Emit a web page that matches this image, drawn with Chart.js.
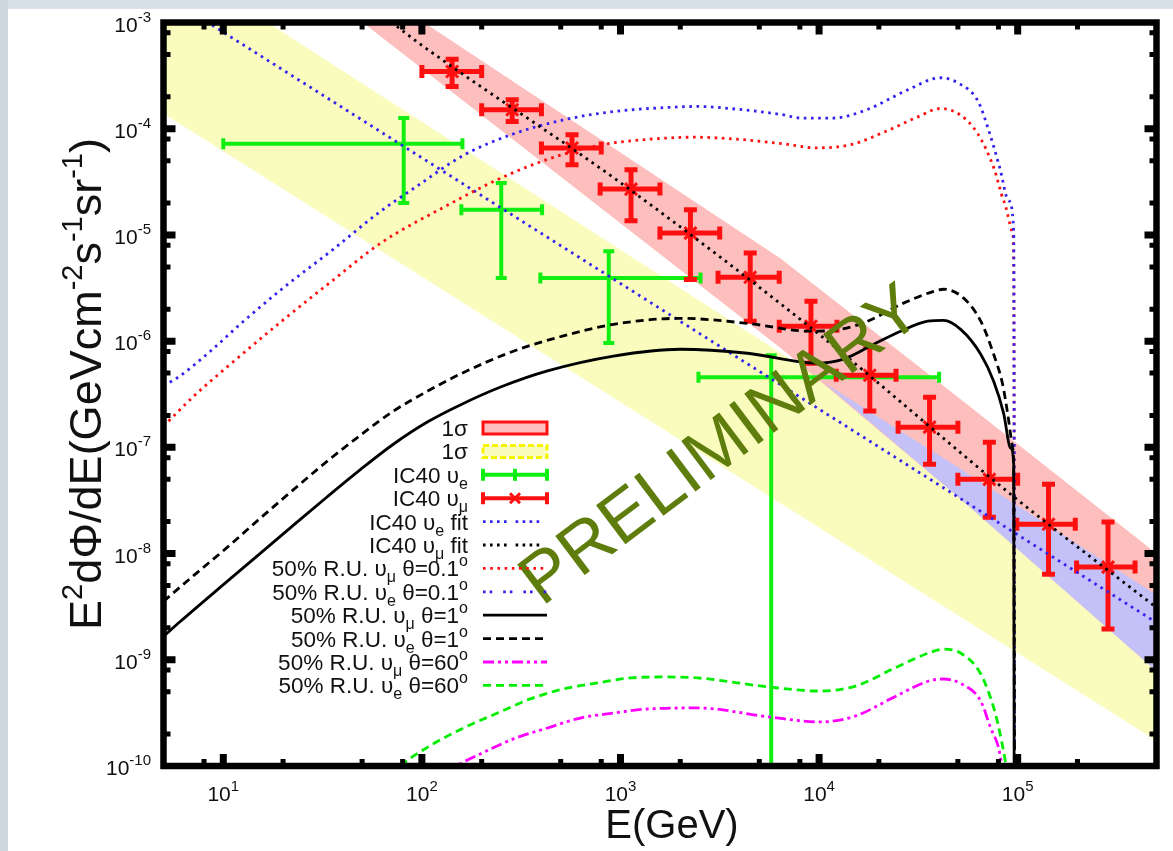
<!DOCTYPE html>
<html>
<head>
<meta charset="utf-8">
<script src="https://cdn.jsdelivr.net/npm/chart.js@4"></script>
<style>
  html, body { margin: 0; padding: 0; background: #fff; }
  #fluxChart { display: block; }
</style>
</head>
<body>
<canvas id="fluxChart" width="1173" height="851"></canvas>
<script>
// axis ranges and tick labels
const energyRange = [5, 5e5];
const fluxRange = [1e-10, 1e-3];
const xTickExponents = [1, 2, 3, 4, 5];
const yTickExponents = [-3, -4, -5, -6, -7, -8, -9, -10];

// 1 sigma bands
const yellowBandE = [5, 500000];
const yellowBandHigh = [4.28e-3, 4.08e-9];
const yellowBandLow = [1.39e-4, 1.73e-10];
const pinkBandE = [40, 6400, 51600, 500000];
const pinkBandHigh = [3.2e-3, 6.0e-6, 2.84e-7, 1.0e-8];
const pinkBandLow = [1.4e-3, 8.6e-7, 3.26e-8, 7.8e-10];
const overlapE = [10500, 51600, 500000];
const overlapHigh = [4.1e-7, 6.27e-8, 4.07e-9];
const overlapLow = [4.1e-7, 3.26e-8, 7.8e-10];

// IC40 nu_e points
const icEE = [81, 251, 873, 5740];
const icEELow = [10, 158, 395, 2470];
const icEEHigh = [160, 403, 2530, 40200];
const icEFlux = [7.2e-5, 1.73e-5, 3.94e-6, 4.57e-7];
const icEFluxLow = [2.0e-5, 3.94e-6, 9.6e-7, 1e-11];
const icEFluxHigh = [1.26e-4, 3.08e-5, 7.02e-6, 7.36e-7];

// IC40 nu_mu points
const icMuE = [142, 285, 570, 1130, 2250, 4500, 9100, 18000, 36000, 72000, 143000, 285000];
const icMuELow = [100, 200, 400, 790, 1580, 3100, 6300, 12200, 25000, 50000, 99000, 198000];
const icMuEHigh = [200, 400, 800, 1580, 3160, 6300, 12300, 24400, 50000, 100000, 195000, 390000];
const icMuFlux = [3.46e-4, 1.51e-4, 6.58e-5, 2.70e-5, 1.04e-5, 3.99e-6, 1.38e-6, 4.78e-7, 1.55e-7, 5.0e-8, 1.89e-8, 7.46e-9];
const icMuFluxLow = [2.5e-4, 1.17e-4, 4.58e-5, 1.36e-5, 3.8e-6, 1.54e-6, 6.2e-7, 2.2e-7, 6.95e-8, 2.2e-8, 6.4e-9, 1.95e-9];
const icMuFluxHigh = [4.5e-4, 1.87e-4, 8.77e-5, 4.11e-5, 1.73e-5, 6.76e-6, 2.37e-6, 8.8e-7, 2.97e-7, 1.12e-7, 4.5e-8, 1.98e-8];

// fits
const eFitE = [5, 500000];
const eFitFlux = [1.84e-3, 2.24e-9];
const muFitE = [70, 100, 1000, 10000, 100000, 500000];
const muFitFlux = [1.01e-3, 6.1e-4, 3.1e-5, 1.16e-6, 3.2e-8, 3.1e-9];

// 50% R.U. theta=0.1
const muT01E = [5, 7.08, 10.5, 20, 35.5, 61.7, 135, 240, 427, 813, 1380, 2344, 3981, 6457, 9772, 14450, 21380, 31620, 40740, 51290, 63100, 75860, 85110, 94410, 95500, 96600];
const muT01Flux = [1.58e-7, 3.02e-7, 5.75e-7, 1.58e-6, 3.72e-6, 8.32e-6, 1.91e-5, 3.31e-5, 5.13e-5, 7.08e-5, 7.94e-5, 8.32e-5, 7.94e-5, 7.24e-5, 6.61e-5, 7.08e-5, 9.33e-5, 1.30e-4, 1.55e-4, 1.35e-4, 8.91e-5, 4.27e-5, 2.09e-5, 1.02e-5, 5.62e-6, 1e-11];
const eT01E = [5, 6.03, 8.61, 12.2, 20, 35.5, 61.7, 91.2, 162, 288, 537, 923, 1660, 2455, 3548, 6457, 8128, 11750, 17380, 28180, 40740, 51290, 63100, 72440, 81280, 90160, 95500, 96600];
const eT01Flux = [3.80e-7, 4.68e-7, 8.04e-7, 1.45e-6, 3.16e-6, 7.24e-6, 1.66e-5, 2.75e-5, 5.62e-5, 8.91e-5, 1.23e-4, 1.45e-4, 1.58e-4, 1.62e-4, 1.55e-4, 1.36e-4, 1.26e-4, 1.26e-4, 1.51e-4, 2.34e-4, 3.02e-4, 2.63e-4, 1.82e-4, 8.91e-5, 4.27e-5, 2.09e-5, 1.07e-5, 1e-11];

// 50% R.U. theta=1
const muT1E = [5, 6.07, 10.5, 15.3, 22.5, 33.4, 49.0, 71.8, 107, 156, 251, 429, 923, 2004, 4365, 9817, 13270, 18840, 25760, 35240, 42360, 51640, 65160, 75680, 84920, 92260, 95500, 96100];
const muT1Flux = [1.66e-9, 2.29e-9, 5.50e-9, 1.0e-8, 1.84e-8, 3.43e-8, 6.17e-8, 1.07e-7, 1.74e-7, 2.51e-7, 3.72e-7, 5.25e-7, 7.24e-7, 8.39e-7, 7.69e-7, 6.19e-7, 6.76e-7, 9.35e-7, 1.24e-6, 1.54e-6, 1.57e-6, 1.29e-6, 7.53e-7, 4.20e-7, 2.10e-7, 9.82e-8, 6.95e-8, 1e-11];
const eT1E = [5, 7.06, 10.5, 15.3, 22.5, 33.4, 49.0, 71.8, 107, 156, 289, 516, 923, 2004, 4365, 9057, 12820, 17540, 25760, 37760, 42360, 53460, 65160, 75680, 83950, 89130, 94410, 95500, 96600];
const eT1Flux = [3.55e-9, 6.17e-9, 1.15e-8, 2.14e-8, 3.98e-8, 7.41e-8, 1.30e-7, 2.19e-7, 3.39e-7, 4.90e-7, 8.04e-7, 1.12e-6, 1.44e-6, 1.64e-6, 1.47e-6, 1.24e-6, 1.29e-6, 1.54e-6, 2.22e-6, 2.94e-6, 3.08e-6, 2.54e-6, 1.54e-6, 7.53e-7, 3.93e-7, 2.05e-7, 9.82e-8, 5.97e-8, 1e-11];

// 50% R.U. theta=60
const muT60E = [124, 156, 197, 289, 429, 628, 923, 1368, 2443, 5572, 10070, 15280, 23440, 35650, 42360, 52240, 65160, 73110, 80170, 82990, 85110];
const muT60Flux = [8.07e-11, 1.05e-10, 1.30e-10, 1.80e-10, 2.28e-10, 2.83e-10, 3.15e-10, 3.44e-10, 3.52e-10, 2.90e-10, 2.60e-10, 2.96e-10, 4.38e-10, 6.31e-10, 6.59e-10, 5.92e-10, 4.09e-10, 2.28e-10, 1.48e-10, 1.05e-10, 7.9e-11];
const eT60E = [70.8, 80.7, 110, 162, 240, 352, 516, 766, 1122, 1648, 2443, 5572, 10070, 15280, 23440, 35650, 42360, 52240, 65160, 76560, 82990, 87100, 89130];
const eT60Flux = [8.1e-11, 1.05e-10, 1.55e-10, 2.28e-10, 3.15e-10, 4.28e-10, 5.31e-10, 6.05e-10, 6.75e-10, 6.89e-10, 6.75e-10, 5.55e-10, 5.08e-10, 5.66e-10, 8.18e-10, 1.16e-9, 1.26e-9, 1.14e-9, 7.35e-10, 3.30e-10, 1.72e-10, 1.05e-10, 7.9e-11];

const FONT = '"Liberation Sans", Arial, Helvetica, sans-serif';
const BLUE = '#3422ee';
const RED = '#ff1010';
const GREEN = '#11ee11';

function zip(xs, ys) {
    return xs.map((x, i) => ({ x: x, y: ys[i] }));
}

function band(label, xs, ys, order, color, fill) {
    return {
        label: label, data: zip(xs, ys), showLine: true, borderWidth: 0, pointRadius: 0,
        order: order, fill: fill ? '+1' : false, backgroundColor: color, borderColor: 'rgba(0,0,0,0)'
    };
}

function curve(label, xs, ys, color, dash, order) {
    return {
        label: label, data: zip(xs, ys), showLine: true, borderColor: color, borderWidth: 2.8,
        borderDash: dash, pointRadius: 0, order: order, fill: false,
        cubicInterpolationMode: 'monotone'
    };
}

const datasets = [
    band('yellow hi', yellowBandE, yellowBandHigh, 20, 'rgb(250,252,190)', true),
    band('yellow lo', yellowBandE, yellowBandLow, 20, 'rgb(250,252,190)', false),
    band('pink hi', pinkBandE, pinkBandHigh, 19, 'rgb(253,190,190)', true),
    band('pink lo', pinkBandE, pinkBandLow, 19, 'rgb(253,190,190)', false),
    band('overlap hi', overlapE, overlapHigh, 18, 'rgb(196,192,248)', true),
    band('overlap lo', overlapE, overlapLow, 18, 'rgb(196,192,248)', false),
    {
        label: 'IC40 νe', data: zip(icEE, icEFlux), pointRadius: 0, order: 12,
        errX: [icEELow, icEEHigh], errY: [icEFluxLow, icEFluxHigh],
        barColor: GREEN, barWidth: 4, capLen: 11, marker: false
    },
    {
        label: 'IC40 νμ', data: zip(icMuE, icMuFlux), pointRadius: 0, order: 11,
        errX: [icMuELow, icMuEHigh], errY: [icMuFluxLow, icMuFluxHigh],
        barColor: RED, barWidth: 5, capLen: 13, marker: true
    },
    curve('IC40 νe fit', eFitE, eFitFlux, BLUE, [2.6, 4.6], 9),
    curve('IC40 νμ fit', muFitE, muFitFlux, '#000', [2.6, 4.6], 2),
    curve('νμ θ=0.1', muT01E, muT01Flux, RED, [2.6, 4.6], 8),
    curve('νe θ=0.1', eT01E, eT01Flux, BLUE, [2.6, 4.6], 7),
    curve('νμ θ=1', muT1E, muT1Flux, '#000', [], 4),
    curve('νe θ=1', eT1E, eT1Flux, '#000', [8, 5], 3),
    curve('νμ θ=60', muT60E, muT60Flux, '#ff00ff', [11, 4, 3, 4, 3, 4], 6),
    curve('νe θ=60', eT60E, eT60Flux, '#00ee00', [8, 5], 5)
];

function runsWidth(ctx, runs) {
    let w = 0;
    runs.forEach(r => { ctx.font = r.size + 'px ' + FONT; w += ctx.measureText(r.t).width; });
    return w;
}

function drawRuns(ctx, runs, x, y, align) {
    const w = runsWidth(ctx, runs);
    let cx = align === 'right' ? x - w : (align === 'center' ? x - w / 2 : x);
    ctx.textAlign = 'left';
    ctx.textBaseline = 'alphabetic';
    runs.forEach(r => {
        ctx.font = r.size + 'px ' + FONT;
        ctx.fillText(r.t, cx, y + (r.dy || 0));
        cx += ctx.measureText(r.t).width;
    });
}

function sub(t) { return { t: t, size: 16, dy: 6 }; }
function deg() { return { t: 'o', size: 16, dy: -10 }; }
function txt(t) { return { t: t, size: 22.5 }; }

const legendRows = [
    { runs: [txt('1σ')], kind: 'pinkBox' },
    { runs: [txt('1σ')], kind: 'yellowBox' },
    { runs: [txt('IC40 υ'), sub('e')], kind: 'greenBar' },
    { runs: [txt('IC40 υ'), sub('μ')], kind: 'redBar' },
    { runs: [txt('IC40 υ'), sub('e'), txt(' fit')], kind: 'line', color: BLUE, dash: [2.6, 4.4, 2.6, 4.4, 2.6, 4.4, 2.6, 9] },
    { runs: [txt('IC40 υ'), sub('μ'), txt(' fit')], kind: 'line', color: '#000', dash: [2.6, 4.4, 2.6, 4.4, 2.6, 4.4, 2.6, 9] },
    { runs: [txt('50% R.U. υ'), sub('μ'), txt(' θ=0.1'), deg()], kind: 'line', color: RED, dash: [2.6, 4.6] },
    { runs: [txt('50% R.U. υ'), sub('e'), txt(' θ=0.1'), deg()], kind: 'line', color: BLUE, dash: [2.6, 4, 2.6, 11] },
    { runs: [txt('50% R.U. υ'), sub('μ'), txt(' θ=1'), deg()], kind: 'line', color: '#000', dash: [] },
    { runs: [txt('50% R.U. υ'), sub('e'), txt(' θ=1'), deg()], kind: 'line', color: '#000', dash: [8, 5] },
    { runs: [txt('50% R.U. υ'), sub('μ'), txt(' θ=60'), deg()], kind: 'line', color: '#ff00ff', dash: [11, 4, 3, 4, 3, 4] },
    { runs: [txt('50% R.U. υ'), sub('e'), txt(' θ=60'), deg()], kind: 'line', color: '#00ee00', dash: [8, 5] }
];

function drawCapBar(ctx, x1, x2, y, color, w, cap) {
    ctx.strokeStyle = color;
    ctx.lineWidth = w;
    ctx.setLineDash([]);
    ctx.beginPath();
    ctx.moveTo(x1, y); ctx.lineTo(x2, y);
    ctx.moveTo(x1, y - cap / 2); ctx.lineTo(x1, y + cap / 2);
    ctx.moveTo(x2, y - cap / 2); ctx.lineTo(x2, y + cap / 2);
    ctx.stroke();
}

const decorPlugin = {
    id: 'decor',
    beforeDraw(chart) {
        const ctx = chart.ctx;
        ctx.save();
        ctx.fillStyle = '#fff';
        ctx.fillRect(0, 0, chart.width, chart.height);
        ctx.fillStyle = '#d8e1e9';
        ctx.fillRect(0, 0, chart.width, 9);
        ctx.fillStyle = '#cdd6de';
        ctx.fillRect(0, 0, 8, chart.height);
        ctx.restore();
    },
    afterDatasetDraw(chart, args) {
        const ds = chart.data.datasets[args.index];
        if (!ds.errX) return;
        const ctx = chart.ctx, xs = chart.scales.x, ys = chart.scales.y, a = chart.chartArea;
        ctx.save();
        ctx.beginPath();
        ctx.rect(a.left, a.top, a.right - a.left, a.bottom - a.top);
        ctx.clip();
        ctx.strokeStyle = ds.barColor;
        ctx.lineWidth = ds.barWidth;
        ds.data.forEach((p, i) => {
            const cx = xs.getPixelForValue(p.x), cy = ys.getPixelForValue(p.y);
            const x1 = xs.getPixelForValue(ds.errX[0][i]), x2 = xs.getPixelForValue(ds.errX[1][i]);
            const y1 = ys.getPixelForValue(ds.errY[0][i]), y2 = ys.getPixelForValue(ds.errY[1][i]);
            const c = ds.capLen / 2;
            ctx.beginPath();
            ctx.moveTo(x1, cy); ctx.lineTo(x2, cy);
            ctx.moveTo(cx, y1); ctx.lineTo(cx, y2);
            ctx.moveTo(x1, cy - c); ctx.lineTo(x1, cy + c);
            ctx.moveTo(x2, cy - c); ctx.lineTo(x2, cy + c);
            ctx.moveTo(cx - c, y1); ctx.lineTo(cx + c, y1);
            ctx.moveTo(cx - c, y2); ctx.lineTo(cx + c, y2);
            ctx.stroke();
            if (ds.marker) {
                ctx.lineWidth = 3;
                ctx.beginPath();
                ctx.moveTo(cx - 6, cy - 6); ctx.lineTo(cx + 6, cy + 6);
                ctx.moveTo(cx - 6, cy + 6); ctx.lineTo(cx + 6, cy - 6);
                ctx.stroke();
                ctx.lineWidth = ds.barWidth;
            }
        });
        ctx.restore();
    },
    afterDraw(chart) {
        const ctx = chart.ctx, xs = chart.scales.x, ys = chart.scales.y, a = chart.chartArea;
        ctx.save();

        // watermark
        ctx.save();
        ctx.translate(722, 447);
        ctx.rotate(-37 * Math.PI / 180);
        ctx.fillStyle = '#5e7d0c';
        ctx.font = '71px ' + FONT;
        ctx.textAlign = 'center';
        ctx.textBaseline = 'middle';
        ctx.fillText('PRELIMINARY', 0, 0);
        ctx.restore();

        // frame
        ctx.strokeStyle = '#000';
        ctx.lineWidth = 6.5;
        ctx.setLineDash([]);
        ctx.strokeRect(a.left, a.top, a.right - a.left, a.bottom - a.top);

        // ticks
        ctx.lineCap = 'butt';
        const drawTick = (px, horizontal, major) => {
            const len = major ? 12 : 7;
            ctx.lineWidth = major ? 7 : 5;
            ctx.beginPath();
            if (horizontal) {
                ctx.moveTo(px, a.bottom); ctx.lineTo(px, a.bottom - len);
                ctx.moveTo(px, a.top); ctx.lineTo(px, a.top + len);
            } else {
                ctx.moveTo(a.left, px); ctx.lineTo(a.left + len, px);
                ctx.moveTo(a.right, px); ctx.lineTo(a.right - len, px);
            }
            ctx.stroke();
        };
        const mult = [1, 2, 5, 8];
        for (let e = 0; e <= 6; e++) {
            mult.forEach(m => {
                const v = m * Math.pow(10, e);
                if (v > energyRange[0] && v < energyRange[1]) drawTick(xs.getPixelForValue(v), true, m === 1);
            });
        }
        for (let e = -10; e <= -3; e++) {
            mult.forEach(m => {
                const v = m * Math.pow(10, e);
                if (v > fluxRange[0] * 1.01 && v < fluxRange[1] * 0.99) drawTick(ys.getPixelForValue(v), false, m === 1);
            });
        }

        // tick labels
        ctx.fillStyle = '#111';
        xTickExponents.forEach(e => {
            const px = xs.getPixelForValue(Math.pow(10, e));
            drawRuns(ctx, [{ t: '10', size: 21 }, { t: String(e), size: 15, dy: -10 }], px, 801, 'center');
        });
        yTickExponents.forEach(e => {
            const py = ys.getPixelForValue(Math.pow(10, e));
            drawRuns(ctx, [{ t: '10', size: 21 }, { t: String(e), size: 15, dy: -10 }], 151, py + 9, 'right');
        });

        // axis titles
        drawRuns(ctx, [{ t: 'E(GeV)', size: 40 }], 672, 838, 'center');
        ctx.save();
        ctx.translate(101, 384);
        ctx.rotate(-Math.PI / 2);
        drawRuns(ctx, [
            { t: 'E', size: 45 }, { t: '2', size: 29, dy: -19 },
            { t: 'dΦ/dE(GeVcm', size: 45 }, { t: '-2', size: 29, dy: -19 },
            { t: 's', size: 45 }, { t: '-1', size: 29, dy: -19 },
            { t: 'sr', size: 45 }, { t: '-1', size: 29, dy: -19 },
            { t: ')', size: 45 }
        ], 0, 0, 'center');
        ctx.restore();

        // legend
        const x0 = 483, x1 = 547;
        legendRows.forEach((row, i) => {
            const y = 428 + i * 23.4;
            ctx.fillStyle = '#111';
            drawRuns(ctx, row.runs, 468, y + 8, 'right');
            ctx.setLineDash([]);
            if (row.kind === 'pinkBox') {
                ctx.fillStyle = 'rgb(253,190,190)';
                ctx.fillRect(x0, y - 6, x1 - x0, 12);
                ctx.strokeStyle = RED; ctx.lineWidth = 3;
                ctx.strokeRect(x0, y - 6, x1 - x0, 12);
            } else if (row.kind === 'yellowBox') {
                ctx.fillStyle = 'rgb(250,252,190)';
                ctx.fillRect(x0, y - 6, x1 - x0, 12);
                ctx.strokeStyle = '#f5f500'; ctx.lineWidth = 3;
                ctx.setLineDash([6, 3]);
                ctx.strokeRect(x0, y - 6, x1 - x0, 12);
            } else if (row.kind === 'greenBar') {
                drawCapBar(ctx, x0, x1, y, GREEN, 4, 12);
                ctx.beginPath(); ctx.moveTo((x0 + x1) / 2, y - 6); ctx.lineTo((x0 + x1) / 2, y + 6); ctx.stroke();
            } else if (row.kind === 'redBar') {
                drawCapBar(ctx, x0, x1, y, RED, 4, 12);
                const mx = (x0 + x1) / 2;
                ctx.lineWidth = 3;
                ctx.beginPath();
                ctx.moveTo(mx - 5, y - 5); ctx.lineTo(mx + 5, y + 5);
                ctx.moveTo(mx - 5, y + 5); ctx.lineTo(mx + 5, y - 5);
                ctx.stroke();
            } else {
                ctx.strokeStyle = row.color;
                ctx.lineWidth = 2.8;
                ctx.setLineDash(row.dash);
                ctx.beginPath(); ctx.moveTo(x0, y); ctx.lineTo(x1, y); ctx.stroke();
            }
        });
        ctx.restore();
    }
};

const fluxChart = new Chart(document.getElementById('fluxChart').getContext('2d'), {
    type: 'scatter',
    data: { datasets: datasets },
    options: {
        responsive: false,
        animation: false,
        devicePixelRatio: 1,
        layout: { padding: { top: 22.5, right: 16.5, left: 0, bottom: 0 } },
        plugins: { legend: { display: false }, tooltip: { enabled: false } },
        scales: {
            x: {
                type: 'logarithmic', min: energyRange[0], max: energyRange[1],
                grid: { display: false }, border: { display: false }, ticks: { display: false },
                afterFit: function (scale) { scale.height = 85; }
            },
            y: {
                type: 'logarithmic', min: fluxRange[0], max: fluxRange[1],
                grid: { display: false }, border: { display: false }, ticks: { display: false },
                afterFit: function (scale) { scale.width = 163.5; }
            }
        }
    },
    plugins: [decorPlugin]
});
</script>
</body>
</html>
